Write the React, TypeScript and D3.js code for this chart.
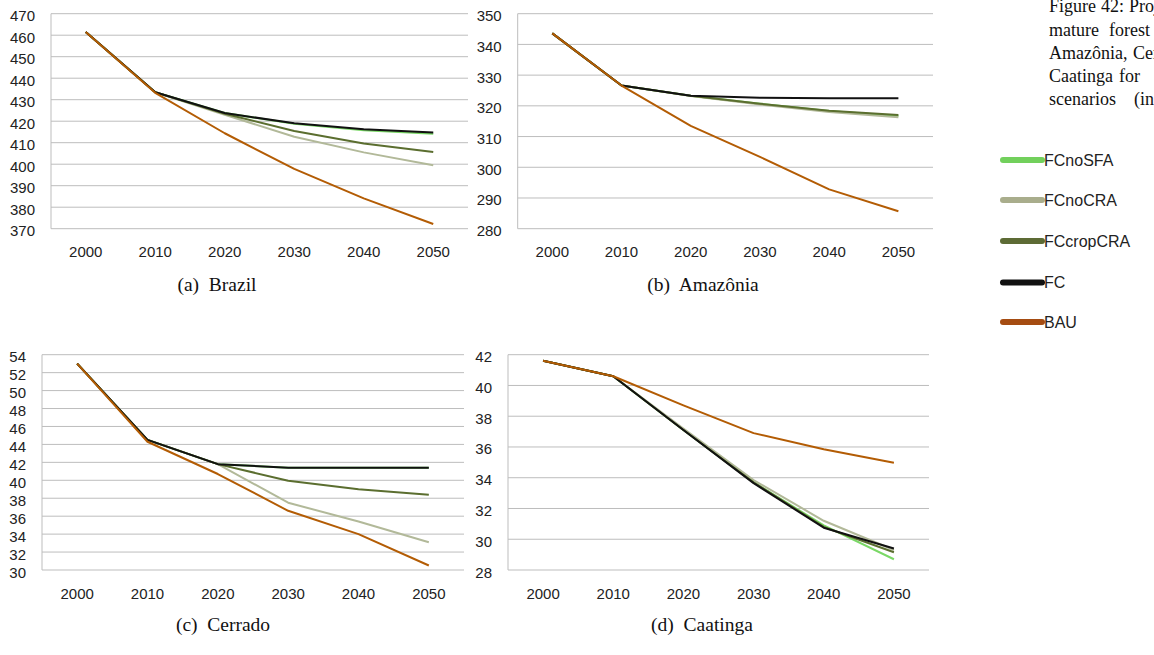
import React from "react";
import * as d3 from "d3";

const years = [2000, 2010, 2020, 2030, 2040, 2050];
const yearLabels = ["2000", "2010", "2020", "2030", "2040", "2050"];
const scenarios = ["FCnoSFA", "FCnoCRA", "FCcropCRA", "FC", "BAU"];

const brazilFCnoSFA = [461.5, 433.5, 423.8, 418.8, 415.8, 414.2];
const brazilFCnoCRA = [461.5, 433.5, 423.0, 412.8, 405.5, 399.5];
const brazilFCcropCRA = [461.5, 433.5, 423.5, 415.4, 409.6, 405.7];
const brazilFC = [461.5, 433.5, 423.8, 419.0, 416.2, 414.7];
const brazilBAU = [461.5, 433.2, 414.4, 397.8, 384.1, 372.2];

const amazoniaFCnoSFA = [343.6, 326.6, 323.3, 320.7, 318.3, 316.7];
const amazoniaFCnoCRA = [343.6, 326.6, 323.2, 320.4, 318.0, 316.3];
const amazoniaFCcropCRA = [343.6, 326.6, 323.3, 320.7, 318.4, 317.0];
const amazoniaFC = [343.6, 326.6, 323.3, 322.6, 322.5, 322.5];
const amazoniaBAU = [343.6, 326.6, 313.5, 303.4, 292.8, 285.7];

const cerradoFCnoSFA = [53.0, 44.5, 41.8, 41.4, 41.4, 41.4];
const cerradoFCnoCRA = [53.0, 44.5, 41.8, 37.5, 35.4, 33.1];
const cerradoFCcropCRA = [53.0, 44.5, 41.8, 39.95, 39.0, 38.4];
const cerradoFC = [53.0, 44.5, 41.8, 41.4, 41.4, 41.4];
const cerradoBAU = [53.0, 44.3, 40.7, 36.6, 34.0, 30.5];

const caatingaFCnoSFA = [41.6, 40.6, 37.1, 33.7, 30.9, 28.7];
const caatingaFCnoCRA = [41.6, 40.6, 37.2, 33.85, 31.2, 29.3];
const caatingaFCcropCRA = [41.6, 40.6, 37.1, 33.7, 30.8, 29.15];
const caatingaFC = [41.6, 40.6, 37.1, 33.65, 30.75, 29.4];
const caatingaBAU = [41.6, 40.6, 38.7, 36.9, 35.85, 34.97];

const brazilTicks = [370, 380, 390, 400, 410, 420, 430, 440, 450, 460, 470];
const amazoniaTicks = [280, 290, 300, 310, 320, 330, 340, 350];
const cerradoTicks = [30, 32, 34, 36, 38, 40, 42, 44, 46, 48, 50, 52, 54];
const caatingaTicks = [28, 30, 32, 34, 36, 38, 40, 42];

const captions = ["(a)  Brazil", "(b)  Amazônia", "(c)  Cerrado", "(d)  Caatinga"];

const lineColors: Record<string, string> = {
  FCnoSFA: "#7ad866",
  FCnoCRA: "#b2b999",
  FCcropCRA: "#5b6e2f",
  FC: "#111111",
  BAU: "#b35c04",
};
const legendColors: Record<string, string> = {
  FCnoSFA: "#72d05c",
  FCnoCRA: "#a9ad8c",
  FCcropCRA: "#5d6b35",
  FC: "#111111",
  BAU: "#a54c12",
};

const panels = [
  {
    series: [brazilFCnoSFA, brazilFCnoCRA, brazilFCcropCRA, brazilFC, brazilBAU],
    ticks: brazilTicks,
    box: { left: 51, right: 468, top: 13.7, bottom: 228.7 },
    caption: { cx: 217, y: 291 },
  },
  {
    series: [amazoniaFCnoSFA, amazoniaFCnoCRA, amazoniaFCcropCRA, amazoniaFC, amazoniaBAU],
    ticks: amazoniaTicks,
    box: { left: 517.7, right: 933, top: 13.7, bottom: 228.7 },
    caption: { cx: 703, y: 291 },
  },
  {
    series: [cerradoFCnoSFA, cerradoFCnoCRA, cerradoFCcropCRA, cerradoFC, cerradoBAU],
    ticks: cerradoTicks,
    box: { left: 42, right: 464, top: 354.7, bottom: 570 },
    caption: { cx: 223, y: 631 },
  },
  {
    series: [caatingaFCnoSFA, caatingaFCnoCRA, caatingaFCcropCRA, caatingaFC, caatingaBAU],
    ticks: caatingaTicks,
    box: { left: 508, right: 929, top: 354.7, bottom: 570 },
    caption: { cx: 702, y: 631 },
  },
];

const sideText = [
  { y: 12, words: [{ t: "Figure", x: 1049 }, { t: "42:", x: 1101 }, { t: "Projections", x: 1129 }] },
  { y: 36, words: [{ t: "mature", x: 1049 }, { t: "forest", x: 1109 }] },
  { y: 59, words: [{ t: "Amazônia,", x: 1049 }, { t: "Cerrado", x: 1133 }] },
  { y: 82, words: [{ t: "Caatinga", x: 1049 }, { t: "for", x: 1119 }] },
  { y: 105, words: [{ t: "scenarios", x: 1049 }, { t: "(in", x: 1134 }] },
];

const legendY = [160, 200, 241, 282.5, 322];

const axisFont = "'Liberation Sans', Arial, sans-serif";
const serifFont = "'Liberation Serif', 'Times New Roman', serif";

function Panel({ p, idx }: { p: (typeof panels)[number]; idx: number }) {
  const { left, right, top, bottom } = p.box;
  const x = d3.scalePoint<number>().domain(years).range([left, right]).padding(0.5);
  const ticks = p.ticks;
  const y = d3
    .scaleLinear()
    .domain([ticks[0], ticks[ticks.length - 1]])
    .range([bottom, top]);
  const line = d3
    .line<number>()
    .x((_, i) => x(years[i]) as number)
    .y((v) => y(v));
  return (
    <g>
      {ticks.map((t) => (
        <line key={"g" + t} x1={left} x2={right} y1={y(t)} y2={y(t)} stroke="#bdbdbd" strokeWidth={1} />
      ))}
      <line x1={left} x2={left} y1={top} y2={bottom} stroke="#bdbdbd" strokeWidth={1} />
      {ticks.map((t) => (
        <text
          key={"t" + t}
          x={left - 16}
          y={y(t) + 2}
          textAnchor="end"
          dominantBaseline="central"
          fontFamily={axisFont}
          fontSize={15}
          fill="#222"
        >
          {t}
        </text>
      ))}
      {years.map((yr, i) => (
        <text
          key={"x" + yr}
          x={x(yr) as number}
          y={bottom + 28.5}
          textAnchor="middle"
          fontFamily={axisFont}
          fontSize={15}
          fill="#222"
        >
          {yearLabels[i]}
        </text>
      ))}
      {p.series.map((s, i) => (
        <path
          key={scenarios[i]}
          d={line(s) || ""}
          fill="none"
          stroke={lineColors[scenarios[i]]}
          strokeWidth={2}
          strokeLinejoin="round"
        />
      ))}
      <text
        x={p.caption.cx}
        y={p.caption.y}
        textAnchor="middle"
        fontFamily={serifFont}
        fontSize={19.5}
        fill="#111"
        xmlSpace="preserve"
        style={{ whiteSpace: "pre" }}
      >
        {captions[idx]}
      </text>
    </g>
  );
}

export default function App() {
  React.useEffect(() => {
    document.body.style.margin = "0";
  }, []);
  return (
    <svg
      width={1154}
      height={655}
      viewBox="0 0 1154 655"
      style={{ position: "absolute", left: 0, top: 0, background: "#fff" }}
    >
      <rect x={0} y={0} width={1154} height={655} fill="#fff" />
      {panels.map((p, i) => (
        <Panel key={i} p={p} idx={i} />
      ))}
      {sideText.map((line, li) => (
        <g key={"s" + li}>
          {line.words.map((w) => (
            <text key={w.t} x={w.x} y={line.y} fontFamily={serifFont} fontSize={18} fill="#111">
              {w.t}
            </text>
          ))}
        </g>
      ))}
      {scenarios.map((s, i) => (
        <g key={"l" + s}>
          <line
            x1={1003}
            x2={1042}
            y1={legendY[i]}
            y2={legendY[i]}
            stroke={legendColors[s]}
            strokeWidth={6}
            strokeLinecap="round"
          />
          <text
            x={1044}
            y={legendY[i]}
            dominantBaseline="central"
            fontFamily={axisFont}
            fontSize={16}
            fill="#222"
          >
            {s}
          </text>
        </g>
      ))}
    </svg>
  );
}
